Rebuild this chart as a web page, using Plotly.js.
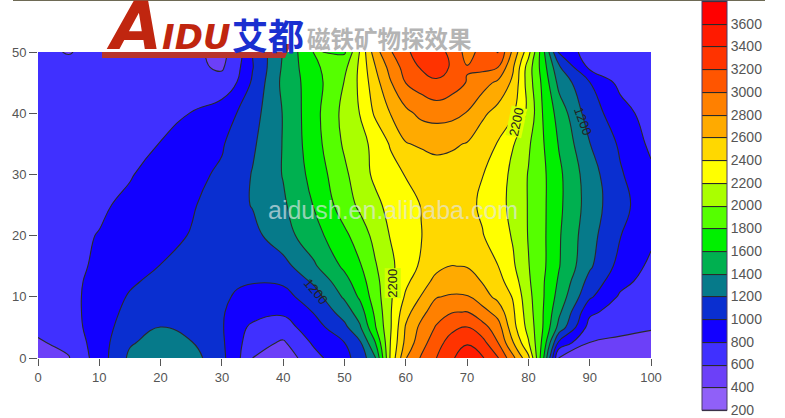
<!DOCTYPE html>
<html>
<head>
<meta charset="utf-8">
<script src="https://cdn.plot.ly/plotly-3.0.1.min.js"></script>
<style>html,body{margin:0;padding:0;background:#fff}#c{width:785px;height:418px}</style>
</head>
<body>
<div id="c"></div>
<script>
const xs = [0,5,10,15,20,25,30,32.5,35,40,45,50,52.5,55,57.5,60,62.5,65,67.5,70,72.5,75,77.5,80,82.5,85,90,95,100];
const ys = [0,2.5,5,7.5,10,12.5,15,20,25,30,35,40,45,47.5,50];
const row0   = [500,590,900,1240,1360,1290,1050,850,600,480,730,950,1070,1370,2230,2790,3020,3200,3360,3580,3420,3220,2850,2450,1600,570,520,510,520];
const row2_5 = [580,650,905,1180,1280,1210,1030,860,680,575,830,1000,1170,1590,2205,2660,2920,3120,3290,3370,3270,3005,2610,2220,1720,950,595,570,575];
const row5   = [640,705,910,1100,1205,1130,1020,850,770,715,910,1150,1370,1780,2180,2620,2850,3020,3150,3205,3070,2900,2470,2130,1780,1330,720,640,606];
const row7_5 = [680,735,890,1060,1150,1130,1020,920,860,830,1010,1290,1500,1840,2180,2530,2740,2910,2990,3005,2880,2720,2430,2090,1790,1440,840,710,650];
const row10  = [700,750,870,1020,1100,1120,1030,980,940,930,1110,1430,1630,1900,2170,2430,2610,2790,2820,2815,2680,2550,2385,2060,1805,1520,1030,770,683];
const row12_5= [725,760,845,970,1060,1080,1050,1020,1010,1030,1230,1530,1710,1930,2170,2360,2510,2660,2700,2700,2590,2470,2300,2030,1810,1570,1130,860,720];
const row15  = [740,775,815,910,1005,1040,1060,1070,1080,1130,1370,1640,1780,1980,2160,2300,2430,2550,2605,2590,2490,2405,2230,2010,1830,1610,1230,930,760];
const row20  = [745,770,805,885,940,1010,1070,1100,1140,1320,1520,1760,1890,2060,2210,2310,2395,2450,2460,2440,2410,2310,2180,1990,1830,1620,1270,1005,840];
const row25  = [735,750,780,830,920,980,1090,1150,1210,1370,1610,1900,2040,2150,2260,2340,2405,2450,2460,2450,2370,2290,2130,1990,1830,1640,1310,1050,900];
const row30  = [720,730,750,790,860,950,1030,1120,1210,1410,1670,1960,2110,2240,2320,2410,2470,2530,2520,2490,2405,2300,2150,1990,1830,1640,1290,1020,840];
const row35  = [700,710,725,750,805,900,980,1090,1170,1410,1715,2030,2130,2260,2420,2590,2625,2640,2625,2590,2480,2390,2210,2030,1805,1585,1205,970,760];
const row40  = [680,685,695,710,730,805,900,1005,1120,1410,1730,2060,2205,2430,2605,2750,2850,2880,2860,2790,2640,2530,2420,2150,1770,1520,1090,890,700];
const row45  = [650,655,660,665,670,670,680,805,1030,1450,1710,2010,2240,2520,2785,3005,3090,3170,3090,2990,2880,2760,2560,2100,1730,1340,1005,740,640];
const row47_5= [630,625,640,650,650,640,575,750,990,1430,1760,1950,2240,2590,2870,3080,3220,3280,3180,3010,3050,3005,2620,2100,1680,1230,760,680,640];
const row50  = [620,595,630,640,640,640,550,690,1005,1410,1810,1775,2210,2720,2980,3180,3250,3290,3140,2930,3060,3210,2750,2270,1630,950,710,660,640];
const zRows = [row0,row2_5,row5,row7_5,row10,row12_5,row15,row20,row25,row30,row35,row40,row45,row47_5,row50];

const bandColors = ['#9060f8','#6c40f8','#4030ff','#1200ff','#0a2fd0','#067a8a','#00b050','#00f000','#55ff00','#aaff00','#ffff00','#ffd800','#ffaa00','#ff8000','#ff5500','#ff3300','#ff1a00','#ff0000'];
const barTicks = [200,400,600,800,1000,1200,1400,1600,1800,2000,2200,2400,2600,2800,3000,3200,3400,3600];
const axisXTicks = [0,10,20,30,40,50,60,70,80,90,100];
const axisYTicks = [0,10,20,30,40,50];

const colorscale = [];
bandColors.forEach((c,i)=>{
  colorscale.push([i/bandColors.length,c]);
  colorscale.push([(i+1)/bandColors.length,c]);
});

const W=613,H=306,L=38,T=52;
const px = v => (v-L)/W;
const py = v => (T+H-v)/H;
const GREY='#555';
const FONT='"Liberation Sans",Arial,sans-serif';

const trace = {
  type:'contour', x:xs, y:ys, z:zRows,
  zmin:200, zmax:3800, zauto:false,
  colorscale,
  contours:{start:200,end:3800,size:200,coloring:'fill',showlabels:false},
  line:{color:'#2a2a2a',width:1.1,smoothing:1.3},
  hoverinfo:'skip',
  colorbar:{
    x:px(702), xanchor:'left', xpad:0,
    y:py(410), yanchor:'bottom', ypad:0,
    lenmode:'pixels', len:409,
    thicknessmode:'pixels', thickness:25,
    outlinecolor:'#4b3a66', outlinewidth:1,
    tickmode:'array', tickvals:barTicks, ticktext:barTicks.map(String),
    ticks:'', ticklabelposition:'outside',
    tickfont:{family:FONT,size:14,color:GREY},
    bgcolor:'rgba(0,0,0,0)', borderwidth:0
  }
};

function lab(text,x,y,angle,bg){
  return {x,y,xref:'x',yref:'y',text,showarrow:false,textangle:angle,
    font:{family:FONT,size:13,color:'#222'},bgcolor:bg,borderpad:0};
}
function paperText(text,xp,yp,font){
  return {xref:'paper',yref:'paper',x:px(xp),y:py(yp),xanchor:'left',yanchor:'bottom',
    text,showarrow:false,borderpad:0,font};
}
const DJ='"DejaVu Sans"';
const CJK='"Noto Sans CJK SC"';
const layout = {
  width:785,height:418,
  margin:{l:L,r:785-L-W,t:T,b:418-T-H,pad:0,autoexpand:false},
  paper_bgcolor:'#fff',plot_bgcolor:'#fff',showlegend:false,
  xaxis:{range:[0,100],tickvals:axisXTicks,ticktext:axisXTicks.map(String),ticks:'outside',ticklen:7,tickwidth:1,tickcolor:GREY,
    tickfont:{family:FONT,size:13,color:GREY},showgrid:false,zeroline:false,showline:false},
  yaxis:{range:[0,50],tickvals:axisYTicks,ticktext:axisYTicks.map(String),ticks:'outside',ticklen:8,tickwidth:1,tickcolor:GREY,
    tickfont:{family:FONT,size:13,color:GREY},showgrid:false,zeroline:false,showline:false},
  shapes:[
    {type:'path',xref:'paper',yref:'paper',layer:'above',line:{width:0},fillcolor:'#b8342c',
     path:`M ${px(102)} ${py(52)} L ${px(283)} ${py(52)} L ${px(286)} ${py(44)} L ${px(291)} ${py(44)} L ${px(285)} ${py(58)} L ${px(102)} ${py(58)} Z`},
    {type:'rect',xref:'paper',yref:'paper',layer:'above',line:{width:0},fillcolor:'#6e6a55',
     x0:px(13),x1:px(765),y0:py(1),y1:py(0)}
  ],
  annotations:[
    lab('2200',57.9,12.3,-90,'#d0ff00'),
    lab('2200',78.1,38.6,-78,'#e0ff00'),
    lab('1200',45.3,10.8,50,'rgba(0,0,0,0)'),
    lab('1200',88.9,38.6,70,'rgba(0,0,0,0)'),
    paperText('A<span style="font-size:34px">IDU</span>',105,66,{family:DJ,size:66,color:'#c0260f',weight:700,style:'italic'}),
    paperText('艾都',231,61,{family:CJK,size:36,color:'#1a2fd0',weight:700}),
    paperText('磁铁矿物探效果',306,56,{family:CJK,size:23.5,color:'#b4b4b4',weight:700}),
    {xref:'paper',yref:'paper',x:px(393),y:py(210),xanchor:'center',yanchor:'middle',text:'aidush.en.alibaba.com',showarrow:false,
     font:{family:FONT,size:25,color:'rgba(225,230,235,0.66)'}}
  ]
};
Plotly.newPlot('c',[trace],layout,{displayModeBar:false,staticPlot:true});
</script>
</body>
</html>
